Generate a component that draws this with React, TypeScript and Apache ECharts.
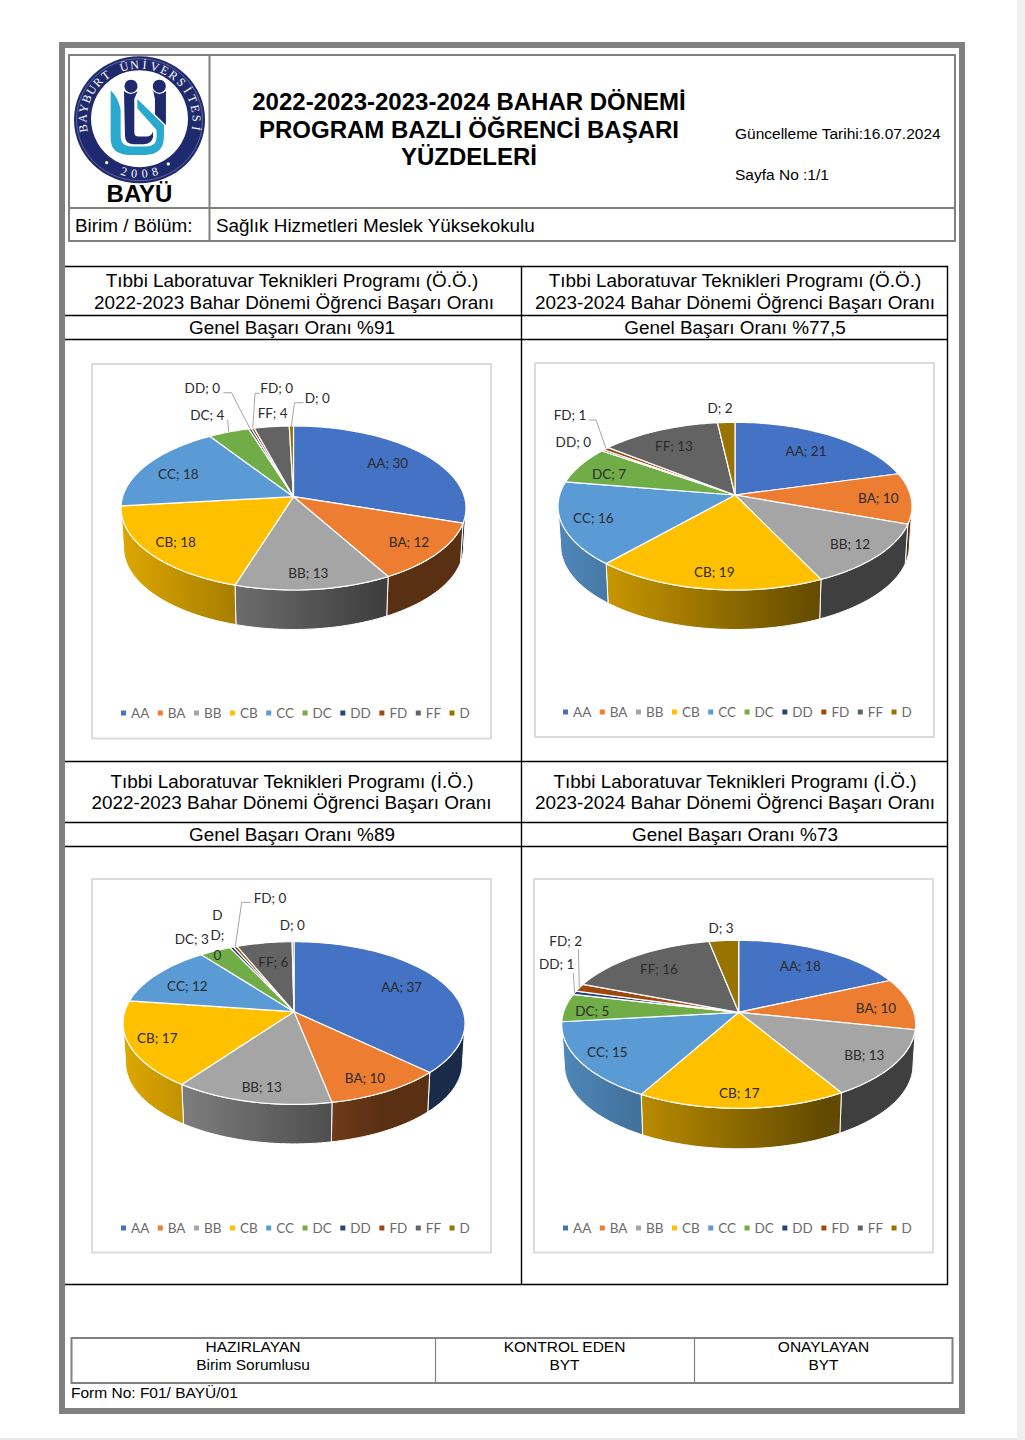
import React, { useEffect, useRef } from "react";
import * as echarts from "echarts";

const grades = ["AA", "BA", "BB", "CB", "CC", "DC", "DD", "FD", "FF", "D"];
const colors = ["#4472C4", "#ED7D31", "#A5A5A5", "#FFC000", "#5B9BD5", "#70AD47", "#264478", "#9E480E", "#636363", "#997300"];

const valuesDay2223 = [30.1, 11.8, 12.9, 18.4, 17.6, 4.4, 0.3, 0.3, 3.75, 0.45];
const valuesDay2324 = [20.7, 9.8, 12.4, 18.6, 16.1, 7.2, 0.3, 0.6, 12.5, 1.8];
const valuesEve2223 = [37.1, 9.8, 13.1, 17.2, 12.4, 3.4, 0.4, 0.4, 6.0, 0.2];
const valuesEve2324 = [18.3, 10.0, 13.1, 16.7, 15.1, 5.4, 0.7, 1.5, 16.1, 3.1];
const allValues = [valuesDay2223, valuesDay2324, valuesEve2223, valuesEve2324];

const titleLines = [
  "2022-2023-2023-2024 BAHAR DÖNEMİ",
  "PROGRAM BAZLI ÖĞRENCİ BAŞARI",
  "YÜZDELERİ",
];
const programDay = "Tıbbi Laboratuvar Teknikleri Programı (Ö.Ö.)";
const programEve = "Tıbbi Laboratuvar Teknikleri Programı (İ.Ö.)";
const term2223 = "2022-2023 Bahar Dönemi Öğrenci Başarı Oranı";
const term2324 = "2023-2024 Bahar Dönemi Öğrenci Başarı Oranı";

// Pie geometry on the page: apex, half width, reach above and below the apex, wall depth
const pieFrames = [
  { cx: 293.5, cy: 496.7, hw: 172.5, up: 70.7, down: 93.3, depth: 39.5 },
  { cx: 735, cy: 495, hw: 177, up: 72.7, down: 95, depth: 39.5 },
  { cx: 294, cy: 1011.7, hw: 171, up: 70, down: 92.7, depth: 39.5 },
  { cx: 738.7, cy: 1012.3, hw: 177, up: 72, down: 96, depth: 40.5 },
];

// Hand-placed label centres, page coordinates, as in the source chart
const labelSpots: number[][][] = [
  [[387.7, 463.3], [409, 542.3], [308.3, 573.3], [175.7, 542.3], [178.3, 474], [207.3, 415], [202.3, 387.7], [276.7, 387.7], [272.7, 412.7], [317.3, 398.3]],
  [[806, 450.7], [878.3, 497.7], [850, 544.3], [714.3, 572.3], [593.3, 518.3], [609, 474], [573.3, 441.7], [570, 415], [674, 446], [720, 407.7]],
  [[401.7, 986.7], [365, 1078.3], [261.7, 1087], [157.3, 1038.3], [187.3, 986], [191.7, 939], [217.3, 935], [270, 897.7], [273.3, 961.7], [292.3, 925]],
  [[800.3, 965.7], [876, 1008.3], [864.3, 1055], [739.3, 1093.3], [607.3, 1051.7], [592.3, 1010.7], [556.7, 964.3], [565.7, 940.7], [659, 969.3], [721, 927.7]],
];
const labelBreaks: Record<string, string> = { "2-6": "D\nD;\n0" };
const leaderElbows: Record<string, number[][]> = {
  "0-5": [[227.7, 420]],
  "0-6": [[223.5, 392.7], [231.5, 392.7]],
  "0-7": [[260, 393.3], [255, 393.3]],
  "0-9": [[303.5, 402.7], [294.5, 402.7]],
  "1-7": [[588.5, 420], [596, 420]],
  "2-7": [[250.5, 902.3], [241.7, 902.3]],
  "3-6": [[573.3, 973.3]],
  "3-7": [[578.3, 949]],
};

const SANS = "Liberation Sans";
const CHART_FONT = "Lato";

echarts.graphic.registerShape(
  "bayuCyan",
  echarts.graphic.extendPath(
    "M32 46 Q55 68 62 105 L62 182 Q62 215 95 215 L140 215 Q170 215 170 185 L170 165 L112 100 L112 72 L192 150 L192 185 Q192 240 135 240 L90 240 Q32 240 32 190 Z",
    {}
  )
);
echarts.graphic.registerShape(
  "bayuNavyLeft",
  echarts.graphic.extendPath(
    "M72 48 Q92 66 113 48 L103 72 L103 172 Q103 185 116 185 L140 185 Q155 185 158 170 L160 185 Q155 208 130 208 L100 208 Q75 208 75 182 Z",
    {}
  )
);
echarts.graphic.registerShape(
  "bayuNavyRight",
  echarts.graphic.extendPath("M160 48 Q178 66 198 48 L198 150 L165 118 L165 72 Z", {})
);

function project(p: any, theta: number, lower: boolean) {
  const k = (p.down - p.up) / (p.down + p.up);
  const ry = p.up * (1 + k);
  const rx = p.hw * Math.sqrt(1 - k * k);
  const u = Math.sin(theta);
  const v = -Math.cos(theta);
  const w = 1 - k * v;
  const x = (rx * u) / w;
  const y = (ry * v) / w;
  return lower ? [p.cx + x * 0.985, p.cy + y + p.depth] : [p.cx + x, p.cy + y];
}

function arcPoints(p: any, a: number, b: number, lower: boolean) {
  const n = Math.max(2, Math.ceil((b - a) / 0.03));
  const pts: number[][] = [];
  for (let i = 0; i <= n; i++) pts.push(project(p, a + ((b - a) * i) / n, lower));
  return pts;
}

function shade(hex: string, f: number) {
  const n = parseInt(hex.slice(1), 16);
  return `rgb(${Math.round(((n >> 16) & 255) * f)},${Math.round(((n >> 8) & 255) * f)},${Math.round((n & 255) * f)})`;
}

function renderSlice(gradeIdx: number) {
  return (_params: any, api: any) => {
    const pieIdx = api.value(0);
    const value = api.value(1);
    const vals = allValues[pieIdx];
    const total = vals.reduce((s, x) => s + x, 0);
    let before = 0;
    for (let i = 0; i < gradeIdx; i++) before += vals[i];
    const a = (before / total) * Math.PI * 2;
    const b = ((before + value) / total) * Math.PI * 2;
    const p = pieFrames[pieIdx];
    const color = colors[gradeIdx];
    const children: any[] = [];

    const k = (p.down - p.up) / (p.down + p.up);
    const visA = Math.acos(-k);
    const visB = Math.PI * 2 - visA;
    const wa = Math.max(a, visA);
    const wb = Math.min(b, visB);
    if (wb > wa) {
      const top = arcPoints(p, wa, wb, false);
      const bottom = arcPoints(p, wa, wb, true).reverse();
      children.push({
        type: "polygon",
        z2: 1,
        shape: { points: top.concat(bottom) },
        style: {
          fill: new echarts.graphic.LinearGradient(
            p.cx - p.hw, 0, p.cx + p.hw, 0,
            [
              { offset: 0, color: shade(color, 0.87) },
              { offset: 0.75, color: shade(color, 0.38) },
              { offset: 1, color: shade(color, 0.38) },
            ],
            true
          ),
          stroke: "#ffffff",
          lineWidth: 1,
        },
      });
    }
    children.push({
      type: "polygon",
      z2: 2,
      shape: { points: [[p.cx, p.cy]].concat(arcPoints(p, a, b, false)) },
      style: { fill: color, stroke: "#ffffff", lineWidth: 1.2 },
    });

    const key = `${pieIdx}-${gradeIdx}`;
    const elbow = leaderElbows[key];
    if (elbow) {
      children.push({
        type: "polyline",
        z2: 4,
        shape: { points: elbow.concat([project(p, (a + b) / 2, false)]) },
        style: { fill: "none", stroke: "#a6a6a6", lineWidth: 1 },
      });
    }
    const spot = labelSpots[pieIdx][gradeIdx];
    children.push({
      type: "text",
      z2: 5,
      style: {
        x: spot[0],
        y: spot[1],
        text: labelBreaks[key] || `${grades[gradeIdx]}; ${Math.round(value)}`,
        fontFamily: CHART_FONT,
        fontSize: 13.5,
        lineHeight: 20,
        fill: "#2b2b2b",
        align: "center",
        verticalAlign: "middle",
      },
    });
    return { type: "group", children };
  };
}

function txt(text: string, x: number, y: number, fontSize: number, align = "center", fontWeight = "normal", fill = "#000000") {
  return {
    type: "text",
    z: 3,
    x,
    y,
    style: { text, fontFamily: SANS, fontSize, fontWeight, fill, align, verticalAlign: "middle" },
  };
}
function ln(x1: number, y1: number, x2: number, y2: number, stroke: string, lineWidth: number) {
  return { type: "line", z: 1, shape: { x1, y1, x2, y2 }, style: { stroke, lineWidth } };
}
function box(x: number, y: number, width: number, height: number, stroke: string, lineWidth: number) {
  return { type: "rect", z: 0, shape: { x, y, width, height }, style: { fill: "none", stroke, lineWidth } };
}

function logoElements() {
  const cx = 139.5;
  const cy = 119.7;
  const navy = "#1f2a6e";
  const cyan = "#2aa9cf";
  const glyph = { x: 100, y: 75, scaleX: 1 / 3, scaleY: 1 / 3 };
  const out: any[] = [
    { type: "ellipse", z: 1, shape: { cx, cy, rx: 65.5, ry: 63.5 }, style: { fill: navy } },
    { type: "ellipse", z: 1, shape: { cx, cy, rx: 63, ry: 61 }, style: { fill: "none", stroke: "rgba(255,255,255,0.35)", lineWidth: 0.8 } },
    { type: "circle", z: 1, shape: { cx, cy: cy - 1, r: 48.5 }, style: { fill: "#ffffff" } },
    { type: "bayuCyan", z: 2, ...glyph, style: { fill: cyan } },
    { type: "bayuNavyLeft", z: 2, ...glyph, style: { fill: navy } },
    { type: "bayuNavyRight", z: 2, ...glyph, style: { fill: navy } },
    { type: "circle", z: 2, shape: { cx: 131, cy: 86.2, r: 6.5 }, style: { fill: navy } },
    { type: "circle", z: 2, shape: { cx: 159.3, cy: 86.2, r: 6.5 }, style: { fill: navy } },
    { type: "circle", z: 2, shape: { cx: 106.7, cy: 162.7, r: 1.6 }, style: { fill: "#ffffff" } },
    { type: "circle", z: 2, shape: { cx: 168.3, cy: 164, r: 1.6 }, style: { fill: "#ffffff" } },
  ];
  const ring = "BAYBURT ÜNİVERSİTESİ";
  [...ring].forEach((ch, i) => {
    if (ch === " ") return;
    const deg = -99 + (198 * i) / (ring.length - 1);
    const rad = (deg * Math.PI) / 180;
    out.push({
      type: "text",
      z: 3,
      x: cx + 57 * Math.sin(rad),
      y: cy - 55 * Math.cos(rad),
      rotation: -rad,
      style: { text: ch, fontFamily: "Liberation Serif", fontSize: 12, fill: "#ffffff", align: "center", verticalAlign: "middle" },
    });
  });
  [..."2008"].forEach((ch, i) => {
    const deg = 16 - i * 10.6;
    const rad = (deg * Math.PI) / 180;
    out.push({
      type: "text",
      z: 3,
      x: cx - 56.5 * Math.sin(rad),
      y: cy + 54 * Math.cos(rad),
      rotation: -rad,
      style: { text: ch, fontFamily: "Liberation Serif", fontSize: 12, fill: "#ffffff", align: "center", verticalAlign: "middle" },
    });
  });
  return out;
}

function formElements() {
  const gray = "#808080";
  const black = "#000000";
  const chartBorder = "#dcdcdc";
  return [
    { type: "rect", z: 0, shape: { x: 1017, y: 0, width: 8, height: 1440 }, style: { fill: "#f0f0f0" } },
    ln(0, 1439, 1017, 1439, "#d0d0d0", 1),
    box(62, 45, 900, 1366, gray, 6),
    // header table
    box(69, 55, 886, 186, gray, 2),
    ln(209.5, 55, 209.5, 241, gray, 2),
    ln(69, 208, 955, 208, gray, 2),
    txt(titleLines[0], 469, 101.5, 24, "center", "bold"),
    txt(titleLines[1], 469, 129.5, 24, "center", "bold"),
    txt(titleLines[2], 469, 156.5, 24, "center", "bold"),
    txt("Güncelleme Tarihi:16.07.2024", 735, 133.5, 15.5, "left"),
    txt("Sayfa No :1/1", 735, 174.5, 15.5, "left"),
    txt("BAYÜ", 139.5, 193.5, 24, "center", "bold"),
    txt("Birim / Bölüm:", 75, 225, 18.9, "left"),
    txt("Sağlık Hizmetleri Meslek Yüksekokulu", 216, 225, 18.9, "left"),
    // chart table
    ln(65, 266.5, 948, 266.5, black, 1.4),
    ln(65, 315.5, 948, 315.5, black, 1.4),
    ln(65, 339.5, 948, 339.5, black, 1.4),
    ln(65, 761.5, 948, 761.5, black, 1.4),
    ln(65, 822.5, 948, 822.5, black, 1.4),
    ln(65, 846.5, 948, 846.5, black, 1.4),
    ln(65, 1284.5, 948, 1284.5, black, 1.4),
    ln(521.5, 266, 521.5, 1285, black, 1.4),
    ln(947.5, 266, 947.5, 1285, black, 1.4),
    txt(programDay, 292, 280.5, 18.9),
    txt(term2223, 294, 302.5, 18.9),
    txt("Genel Başarı Oranı %91", 292, 327.5, 18.9),
    txt(programDay, 735, 280.5, 18.9),
    txt(term2324, 735, 302.5, 18.9),
    txt("Genel Başarı Oranı %77,5", 735, 327.5, 18.9),
    txt(programEve, 292, 781.5, 18.9),
    txt(term2223, 291.5, 802.5, 18.9),
    txt("Genel Başarı Oranı %89", 292, 834.5, 18.9),
    txt(programEve, 735, 781.5, 18.9),
    txt(term2324, 735, 802.5, 18.9),
    txt("Genel Başarı Oranı %73", 735, 834.5, 18.9),
    box(92, 364, 399, 374.5, chartBorder, 2),
    box(535, 363, 399, 374, chartBorder, 2),
    box(92, 879, 399, 373.5, chartBorder, 2),
    box(534, 879, 399, 373.5, chartBorder, 2),
    // signature table
    box(71.5, 1338, 881, 45, gray, 2),
    ln(435.5, 1338, 435.5, 1383, gray, 1.2),
    ln(694.5, 1338, 694.5, 1383, gray, 1.2),
    txt("HAZIRLAYAN", 253, 1346.5, 15.5),
    txt("Birim Sorumlusu", 253, 1364.5, 15.5),
    txt("KONTROL EDEN", 564.5, 1346.5, 15.5),
    txt("BYT", 564.5, 1364.5, 15.5),
    txt("ONAYLAYAN", 823.5, 1346.5, 15.5),
    txt("BYT", 823.5, 1364.5, 15.5),
    txt("Form No: F01/ BAYÜ/01", 71, 1392.5, 15.5, "left"),
    ...logoElements(),
  ];
}

function legendAt(left: number, top: number) {
  return {
    left,
    top,
    orient: "horizontal",
    icon: "rect",
    itemWidth: 5,
    itemHeight: 5,
    itemGap: 8.5,
    selectedMode: false,
    data: grades,
    textStyle: { fontFamily: CHART_FONT, fontSize: 13.5, color: "#6b6b6b" },
  };
}

export default function App() {
  const ref = useRef<HTMLDivElement>(null);
  useEffect(() => {
    document.body.style.margin = "0";
    const chart = echarts.init(ref.current!, undefined, { renderer: "svg" });
    chart.setOption({
      animation: false,
      backgroundColor: "#ffffff",
      graphic: { elements: formElements() },
      legend: [legendAt(116, 701), legendAt(558, 700), legendAt(116, 1216), legendAt(558, 1216)],
      series: grades.map((name, g) => ({
        type: "custom",
        name,
        coordinateSystem: "none",
        itemStyle: { color: colors[g] },
        renderItem: renderSlice(g),
        data: allValues.map((vals, i) => [i, vals[g]]),
      })),
    });
    return () => chart.dispose();
  }, []);
  return <div ref={ref} style={{ width: 1025, height: 1440 }} />;
}
